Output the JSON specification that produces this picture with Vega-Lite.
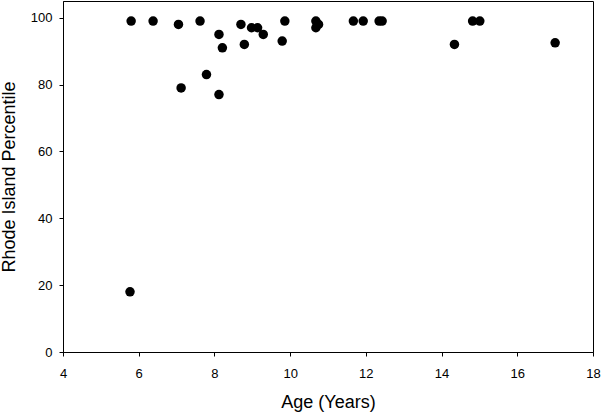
{
  "$schema": "https://vega.github.io/schema/vega-lite/v6.json",
  "width": 530,
  "height": 351,
  "autosize": {"type": "none"},
  "padding": {"left": 63, "top": 1, "right": 8, "bottom": 61},
  "background": "white",
  "config": {
    "view": {"stroke": "black", "strokeWidth": 1},
    "font": "Liberation Sans",
    "axis": {
      "grid": false,
      "domainColor": "black",
      "tickColor": "black",
      "labelColor": "black",
      "titleColor": "black",
      "labelFont": "Liberation Sans",
      "titleFont": "Liberation Sans",
      "labelFontSize": 13,
      "titleFontSize": 18,
      "titleFontWeight": "normal",
      "tickSize": 4
    }
  },
  "data": {
    "values": [
      {"age": 5.80, "pct": 99},
      {"age": 6.38, "pct": 99},
      {"age": 7.05, "pct": 98},
      {"age": 7.62, "pct": 99},
      {"age": 8.12, "pct": 95},
      {"age": 8.21, "pct": 91},
      {"age": 7.12, "pct": 79},
      {"age": 7.79, "pct": 83},
      {"age": 8.12, "pct": 77},
      {"age": 8.70, "pct": 98},
      {"age": 8.79, "pct": 92},
      {"age": 8.98, "pct": 97},
      {"age": 9.14, "pct": 97},
      {"age": 9.29, "pct": 95},
      {"age": 9.86, "pct": 99},
      {"age": 9.79, "pct": 93},
      {"age": 5.77, "pct": 18},
      {"age": 10.68, "pct": 99},
      {"age": 10.75, "pct": 98},
      {"age": 10.68, "pct": 97},
      {"age": 11.67, "pct": 99},
      {"age": 11.93, "pct": 99},
      {"age": 12.35, "pct": 99},
      {"age": 12.43, "pct": 99},
      {"age": 14.34, "pct": 92},
      {"age": 14.82, "pct": 99},
      {"age": 15.01, "pct": 99},
      {"age": 17.0, "pct": 92.5}
    ]
  },
  "mark": {"type": "circle", "color": "black", "opacity": 1, "size": 90},
  "encoding": {
    "x": {
      "field": "age",
      "type": "quantitative",
      "scale": {"domain": [4, 18], "nice": false, "zero": false},
      "axis": {"title": "Age (Years)", "values": [4, 6, 8, 10, 12, 14, 16, 18], "labelPadding": 11, "titlePadding": 13, "labelFlush": false}
    },
    "y": {
      "field": "pct",
      "type": "quantitative",
      "scale": {"domain": [0, 105], "nice": false},
      "axis": {"title": "Rhode Island Percentile", "values": [0, 20, 40, 60, 80, 100], "labelPadding": 7, "titlePadding": 12, "labelFlush": false}
    }
  }
}
